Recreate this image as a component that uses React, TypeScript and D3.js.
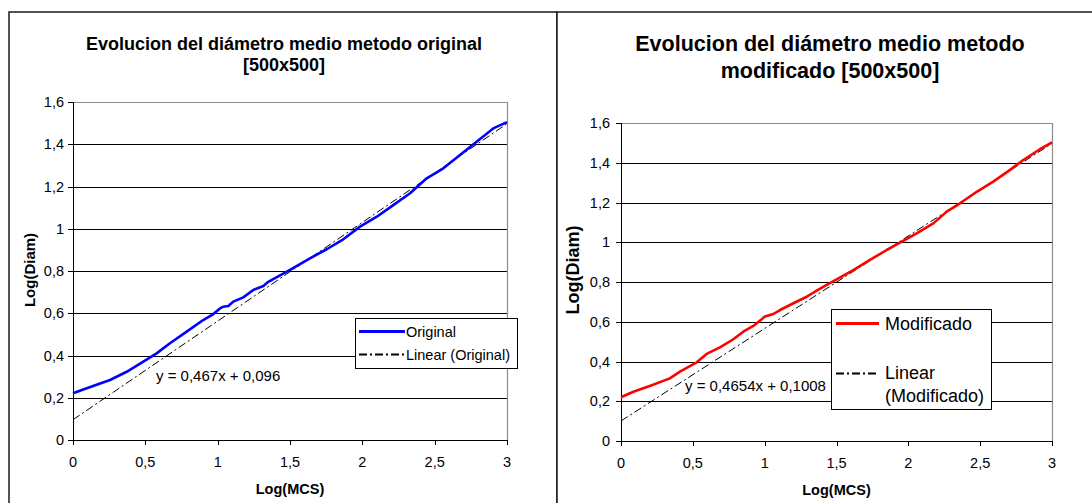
import React from 'react';
import * as d3 from 'd3';

// axis ticks shared by both charts
const xTicks = [0, 0.5, 1, 1.5, 2, 2.5, 3];
const yTicks = [0, 0.2, 0.4, 0.6, 0.8, 1, 1.2, 1.4, 1.6];

// Log(MCS) vs Log(Diam), metodo original
const origX = [0, 0.095, 0.256, 0.371, 0.486, 0.578, 0.67, 0.786, 0.9, 0.97, 1.016, 1.04, 1.074, 1.108, 1.177, 1.246, 1.316, 1.35, 1.5, 1.638, 1.754, 1.868, 1.984, 2.1, 2.214, 2.33, 2.445, 2.56, 2.675, 2.79, 2.905, 3];
const origY = [0.221, 0.245, 0.284, 0.323, 0.371, 0.41, 0.458, 0.513, 0.568, 0.596, 0.623, 0.631, 0.634, 0.655, 0.675, 0.71, 0.729, 0.749, 0.805, 0.86, 0.903, 0.95, 1.01, 1.057, 1.112, 1.168, 1.239, 1.286, 1.349, 1.412, 1.475, 1.505];

// metodo modificado
const modX = [0, 0.086, 0.2, 0.34, 0.41, 0.527, 0.596, 0.689, 0.782, 0.851, 0.921, 1.002, 1.06, 1.107, 1.2, 1.293, 1.35, 1.432, 1.501, 1.617, 1.733, 1.849, 1.942, 2.058, 2.174, 2.267, 2.36, 2.476, 2.591, 2.708, 2.8, 2.916, 3];
const modY = [0.22, 0.248, 0.277, 0.315, 0.349, 0.396, 0.438, 0.471, 0.512, 0.55, 0.579, 0.626, 0.639, 0.659, 0.693, 0.726, 0.751, 0.785, 0.813, 0.86, 0.911, 0.961, 0.998, 1.045, 1.095, 1.154, 1.196, 1.254, 1.305, 1.364, 1.414, 1.468, 1.502];

// linear trend lines (slope, intercept)
const origTrend = [0.467, 0.096];
const modTrend = [0.4654, 0.1008];

const FONT = "'Liberation Sans', Arial, Helvetica, sans-serif";
const DASHDOT = '8,3,2,3';

const fmt = (v: number) => String(v).replace('.', ',');

type LegendItem = { lines: string[]; sampleY: number; textY: number[]; dashed: boolean };

type PanelCfg = {
  frame: { x: number; y: number; w: number; h: number };
  plot: { l: number; r: number; t: number; b: number };
  title: string[];
  titleX: number;
  titleY: number[];
  titleSize: number;
  xs: number[];
  ys: number[];
  color: string;
  trend: number[];
  eq: string;
  eqX: number;
  eqY: number;
  legend: { x: number; y: number; w: number; h: number; size: number; lineX: [number, number]; textX: number; items: LegendItem[] };
  yLabelX: number;
  yLabelY: number;
  yLabelSize: number;
  tickRight: number;
};

const Panel = ({ cfg }: { cfg: PanelCfg }) => {
  const { plot } = cfg;
  const x = d3.scaleLinear().domain([0, 3]).range([plot.l, plot.r]);
  const y = d3.scaleLinear().domain([0, 1.6]).range([plot.b, plot.t]);

  const line = d3.line<number>()
    .x((_, i) => x(cfg.xs[i]))
    .y((d) => y(d))
    .curve(d3.curveLinear);

  const [a, b] = cfg.trend;

  return (
    <g fontFamily={FONT}>
      {/* chart area frame */}
      <rect x={cfg.frame.x} y={cfg.frame.y} width={cfg.frame.w} height={cfg.frame.h}
        fill="#fff" stroke="#1a1a1a" strokeWidth={1.5} />

      {/* title */}
      <text textAnchor="middle" fontWeight="bold" fontSize={cfg.titleSize} fill="#000">
        {cfg.title.map((t, i) => (
          <tspan key={i} x={cfg.titleX} y={cfg.titleY[i]}>{t}</tspan>
        ))}
      </text>

      {/* grid lines */}
      {yTicks.filter((t) => t > 0 && t < 1.6).map((t) => (
        <line key={t} x1={plot.l} x2={plot.r} y1={Math.round(y(t)) + 0.5} y2={Math.round(y(t)) + 0.5}
          stroke="#000" strokeWidth={1} />
      ))}
      {/* plot area top / right border */}
      <polyline points={`${plot.l},${plot.t + 0.5} ${plot.r + 0.5},${plot.t + 0.5} ${plot.r + 0.5},${plot.b}`}
        fill="none" stroke="#8c8c8c" strokeWidth={1.2} />

      {/* axes */}
      <line x1={plot.l + 0.5} x2={plot.l + 0.5} y1={plot.t} y2={plot.b} stroke="#000" strokeWidth={1} />
      <line x1={plot.l} x2={plot.r + 1} y1={plot.b + 0.5} y2={plot.b + 0.5} stroke="#000" strokeWidth={1} />
      {yTicks.map((t) => (
        <g key={t}>
          <line x1={plot.l - 5} x2={plot.l} y1={Math.round(y(t)) + 0.5} y2={Math.round(y(t)) + 0.5} stroke="#000" />
          <text x={cfg.tickRight} y={y(t) + 5} textAnchor="end" fontSize={14.5} fill="#000">{fmt(t)}</text>
        </g>
      ))}
      {xTicks.map((t) => (
        <g key={t}>
          <line x1={Math.round(x(t)) + 0.5} x2={Math.round(x(t)) + 0.5} y1={plot.b} y2={plot.b + 5} stroke="#000" />
          <text x={x(t)} y={plot.b + 27} textAnchor="middle" fontSize={14.5} fill="#000">{fmt(t)}</text>
        </g>
      ))}

      {/* axis titles */}
      <text x={(plot.l + plot.r) / 2} y={plot.b + 54} textAnchor="middle" fontWeight="bold" fontSize={14.5}>Log(MCS)</text>
      <text transform={`translate(${cfg.yLabelX},${cfg.yLabelY}) rotate(-90)`} textAnchor="middle"
        fontWeight="bold" fontSize={cfg.yLabelSize}>Log(Diam)</text>

      {/* trend line */}
      <line x1={x(0)} y1={y(b)} x2={x(3)} y2={y(a * 3 + b)} stroke="#000" strokeWidth={1} strokeDasharray={DASHDOT} />

      {/* series */}
      <path d={line(cfg.ys) || ''} fill="none" stroke={cfg.color} strokeWidth={2.6} strokeLinejoin="round" />

      {/* trend equation */}
      <text x={cfg.eqX} y={cfg.eqY} fontSize={15} fill="#000" style={{ whiteSpace: 'pre' }}>{cfg.eq}</text>

      {/* legend */}
      <rect x={cfg.legend.x + 0.5} y={cfg.legend.y + 0.5} width={cfg.legend.w} height={cfg.legend.h}
        fill="#fff" stroke="#000" strokeWidth={1} />
      {cfg.legend.items.map((it, i) => (
        <g key={i}>
          <line x1={cfg.legend.lineX[0]} x2={cfg.legend.lineX[1]} y1={it.sampleY} y2={it.sampleY}
            stroke={it.dashed ? '#000' : cfg.color} strokeWidth={it.dashed ? 2 : 3}
            strokeDasharray={it.dashed ? DASHDOT : undefined} />
          {it.lines.map((l, j) => (
            <text key={j} x={cfg.legend.textX} y={it.textY[j]} fontSize={cfg.legend.size} fill="#000">{l}</text>
          ))}
        </g>
      ))}
    </g>
  );
};

const leftCfg: PanelCfg = {
  frame: { x: 9, y: 12, w: 548, h: 520 },
  plot: { l: 73, r: 507, t: 102, b: 440 },
  title: ['Evolucion del diámetro medio metodo original', '[500x500]'],
  titleX: 284,
  titleY: [50, 71],
  titleSize: 18,
  xs: origX,
  ys: origY,
  color: '#0000ff',
  trend: origTrend,
  eq: 'y = 0,467x + 0,096',
  eqX: 156,
  eqY: 381,
  legend: {
    x: 355, y: 318, w: 162, h: 50, size: 14.5, lineX: [359, 405], textX: 406,
    items: [
      { lines: ['Original'], sampleY: 331.5, textY: [337], dashed: false },
      { lines: ['Linear (Original)'], sampleY: 354.5, textY: [360], dashed: true },
    ],
  },
  yLabelX: 35,
  yLabelY: 270,
  yLabelSize: 15,
  tickRight: 64,
};

const rightCfg: PanelCfg = {
  frame: { x: 557, y: 12, w: 560, h: 520 },
  plot: { l: 621, r: 1052, t: 123, b: 441 },
  title: ['Evolucion del diámetro medio metodo', 'modificado [500x500]'],
  titleX: 830,
  titleY: [51, 78],
  titleSize: 21.5,
  xs: modX,
  ys: modY,
  color: '#ff0000',
  trend: modTrend,
  eq: 'y = 0,4654x + 0,1008',
  eqX: 685,
  eqY: 391,
  legend: {
    x: 831, y: 309, w: 160, h: 100, size: 18, lineX: [836, 879], textX: 885,
    items: [
      { lines: ['Modificado'], sampleY: 323.5, textY: [330] , dashed: false },
      { lines: ['Linear', '(Modificado)'], sampleY: 373.5, textY: [379, 402], dashed: true },
    ],
  },
  yLabelX: 579,
  yLabelY: 270,
  yLabelSize: 18,
  tickRight: 610,
};

export default function App() {
  return (
    <svg width={1092} height={503} style={{ position: 'absolute', left: 0, top: 0, background: '#fff' }}>
      <rect width={1092} height={503} fill="#fff" />
      <Panel cfg={leftCfg} />
      <Panel cfg={rightCfg} />
    </svg>
  );
}
